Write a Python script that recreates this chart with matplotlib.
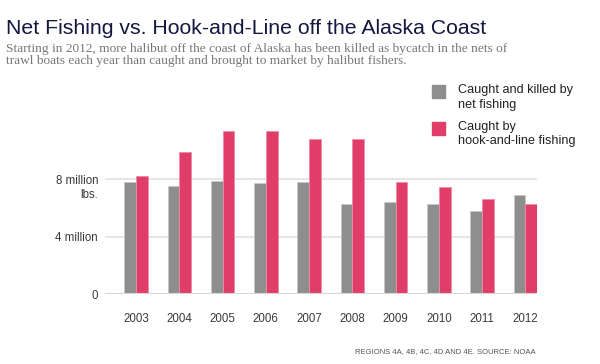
import numpy as np
import matplotlib.pyplot as plt

years = ['2003', '2004', '2005', '2006', '2007', '2008', '2009', '2010', '2011', '2012']
net_fishing = [7.77, 7.53, 7.84, 7.72, 7.79, 6.28, 6.38, 6.24, 5.80, 6.91]
hook_line = [8.21, 9.86, 11.34, 11.34, 10.76, 10.76, 7.79, 7.42, 6.63, 6.28]
ytick_vals = [0, 4, 8]
ytick_labels = ['0', '4 million', '8 million']

gray = '#8e8e8e'
red = '#e03e69'
font = 'Liberation Sans'

fig = plt.figure(figsize=(6, 3.64), dpi=100)
ax = fig.add_axes([0.175, 0.1923, 0.72, 0.4739])

x = np.arange(len(years))
w = 0.27
ax.bar(x - w/2, net_fishing, width=w, color=gray, edgecolor='#c8c8c8', linewidth=0.6, zorder=3)
ax.bar(x + w/2, hook_line, width=w, color=red, edgecolor='#f08aa5', linewidth=0.6, zorder=3)

ax.set_xlim(-0.72, 9.27)
ax.set_ylim(0, 12)
for s in ax.spines.values():
    s.set_visible(False)
for v in ytick_vals[1:]:
    ax.axhline(v, color='#e2e2e2', linewidth=1.2, zorder=1)
ax.axhline(0, color='#d6d6d6', linewidth=1.5, zorder=4)

ax.set_yticks(ytick_vals)
ax.set_yticklabels(ytick_labels, fontsize=8.3, color='#3a3a3a', family=font)
ax.set_xticks(x)
ax.set_xticklabels(years, fontsize=8.3, color='#3a3a3a', family=font)
ax.tick_params(axis='both', length=0)
ax.tick_params(axis='x', pad=13.5)
ax.tick_params(axis='y', pad=5)
fig.text(98 / 600, 1 - 195 / 364, 'lbs.', fontsize=8.3, color='#3a3a3a', family=font,
         ha='right', va='center')

fig.text(0.01, 0.923, 'Net Fishing vs. Hook-and-Line off the Alaska Coast',
         fontsize=15.3, color='#14173f', family=font, va='center')
fig.text(0.01, 0.849, 'Starting in 2012, more halibut off the coast of Alaska has been killed as bycatch in the nets of\n'
         'trawl boats each year than caught and brought to market by halibut fishers.',
         fontsize=9.6, color='#777777', family='Liberation Serif', va='center', linespacing=1.05)

# legend
fig.patches.append(plt.Rectangle((432 / 600, 1 - 97.7 / 364), 13 / 600, 12.7 / 364,
                                 transform=fig.transFigure, color=gray, figure=fig))
fig.patches.append(plt.Rectangle((432 / 600, 1 - 134.5 / 364), 13 / 600, 12.7 / 364,
                                 transform=fig.transFigure, color=red, figure=fig))
fig.text(458 / 600, 1 - 97.5 / 364, 'Caught and killed by\nnet fishing', fontsize=9.1,
         color='#222222', family=font, va='center', linespacing=1.25)
fig.text(458 / 600, 1 - 133.7 / 364, 'Caught by\nhook-and-line fishing', fontsize=9.1,
         color='#222222', family=font, va='center', linespacing=1.25)

fig.text(536 / 600, 1 - 352 / 364, 'REGIONS 4A, 4B, 4C, 4D AND 4E. SOURCE: NOAA',
         fontsize=5.5, color='#555555', family=font, ha='right', va='center')

fig.savefig('out.png', dpi=100)
